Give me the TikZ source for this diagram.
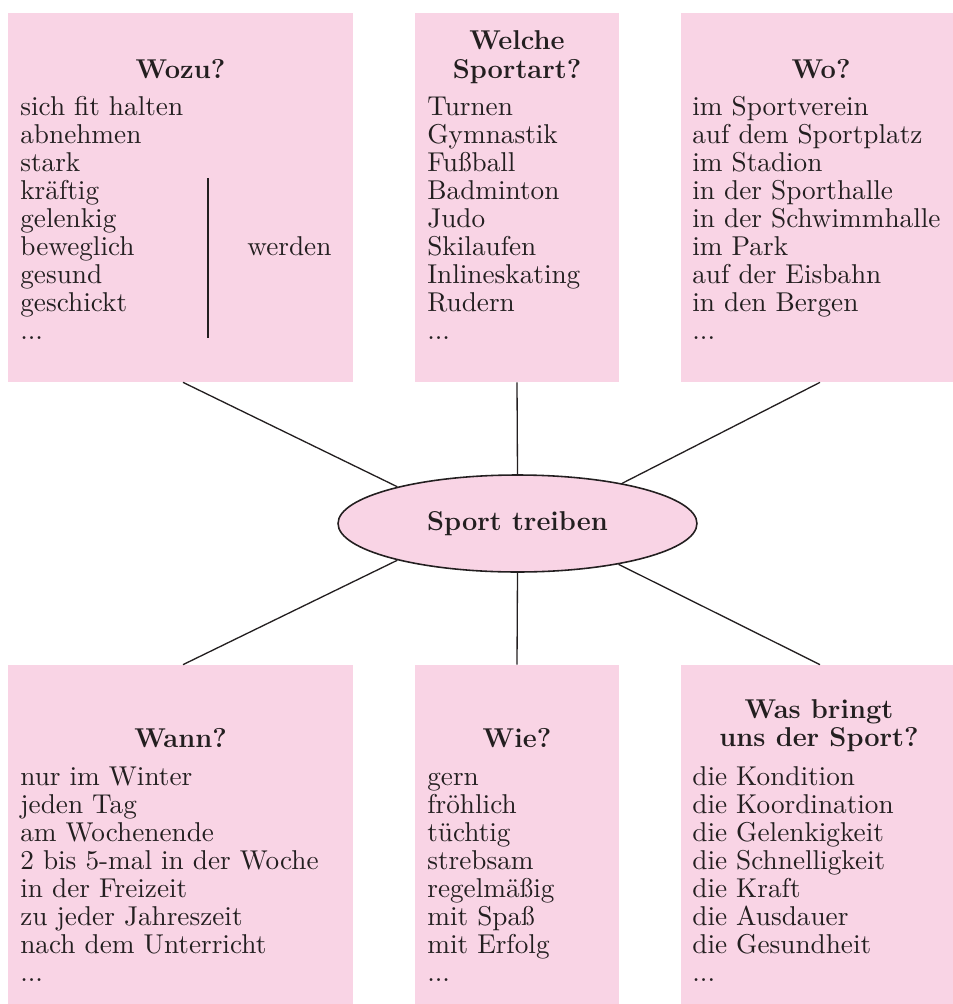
\documentclass[tikz,border=0pt]{standalone}
\usepackage{fontspec}
\setmainfont{lmroman10-regular.otf}[BoldFont=lmroman12-bold.otf]
\usetikzlibrary{shapes.geometric,fit}
\definecolor{pinkfill}{RGB}{249,212,229}
\definecolor{ink}{RGB}{35,31,32}
\begin{document}
\begin{tikzpicture}[x=0.02cm,y=-0.02cm,
  every node/.style={font=\fontsize{15.5}{15.94}\selectfont, text=ink, inner sep=0pt},
  box/.style={fill=pinkfill, draw=none, inner sep=0pt},
  title/.style={font=\fontsize{15.5}{15.94}\selectfont\bfseries, anchor=base},
  list/.style={anchor=base west},
  link/.style={draw=ink, line width=0.75pt}]
\useasboundingbox (0,0) rectangle (953,1004);
% boxes
\node[box, fit={(8,13) (353,382)}] (wozu) {};
\node[box, fit={(415,13) (619,382)}] (art) {};
\node[box, fit={(681,13) (953,382)}] (wo) {};
\node[box, fit={(8,665) (353,1004)}] (wann) {};
\node[box, fit={(415,665) (619,1004)}] (wie) {};
\node[box, fit={(681,665) (953,1004)}] (bringt) {};
% centre
\node[ellipse, fill=pinkfill, draw=ink, line width=0.9pt, minimum width=7.18cm, minimum height=1.94cm,
  font=\fontsize{15.5}{15.94}\selectfont\bfseries] (center) at (517.5,523.5) {Sport treiben};
% connectors
\draw[link] ([xshift=0.05cm]wozu.south) -- (center.163);
\draw[link] (art.south) -- (center.north);
\draw[link] ([xshift=0.06cm]wo.south) -- (center.21);
\draw[link] ([xshift=0.05cm]wann.north) -- (center.197);
\draw[link] (wie.north) -- (center.south);
\draw[link] ([xshift=0.06cm]bringt.north) -- (center.338);
% titles
\node[title] (t1) at (180.5,78) {Wozu?};
\node[title] (t2) at (517,50) {\begin{tabular}[t]{@{}c@{}}Welche\\Sportart?\end{tabular}};
\node[title] (t3) at (821,78) {Wo?};
\node[title] (t4) at (180.5,747) {Wann?};
\node[title] (t5) at (517,747) {Wie?};
\node[title] (t6) at (819,718) {\begin{tabular}[t]{@{}c@{}}Was bringt\\uns der Sport?\end{tabular}};
% lists
\node[list] (l1) at (20,115) {\begin{tabular}[t]{@{}l@{}}sich fit halten\\abnehmen\\stark\\kräftig\\gelenkig\\beweglich\\gesund\\geschickt\\...\end{tabular}};
\draw[link] (208,178) -- (208,338);
\node[list] (werden) at (247,255) {werden};
\node[list] (l2) at (427,115) {\begin{tabular}[t]{@{}l@{}}Turnen\\Gymnastik\\Fußball\\Badminton\\Judo\\Skilaufen\\Inlineskating\\Rudern\\...\end{tabular}};
\node[list] (l3) at (692,115) {\begin{tabular}[t]{@{}l@{}}im Sportverein\\auf dem Sportplatz\\im Stadion\\in der Sporthalle\\in der Schwimmhalle\\im Park\\auf der Eisbahn\\in den Bergen\\...\end{tabular}};
\node[list] (l4) at (20,785) {\begin{tabular}[t]{@{}l@{}}nur im Winter\\jeden Tag\\am Wochenende\\2 bis 5-mal in der Woche\\in der Freizeit\\zu jeder Jahreszeit\\nach dem Unterricht\\...\end{tabular}};
\node[list] (l5) at (427,785) {\begin{tabular}[t]{@{}l@{}}gern\\fröhlich\\tüchtig\\strebsam\\regelmäßig\\mit Spaß\\mit Erfolg\\...\end{tabular}};
\node[list] (l6) at (692,785) {\begin{tabular}[t]{@{}l@{}}die Kondition\\die Koordination\\die Gelenkigkeit\\die Schnelligkeit\\die Kraft\\die Ausdauer\\die Gesundheit\\...\end{tabular}};
\end{tikzpicture}
\end{document}
